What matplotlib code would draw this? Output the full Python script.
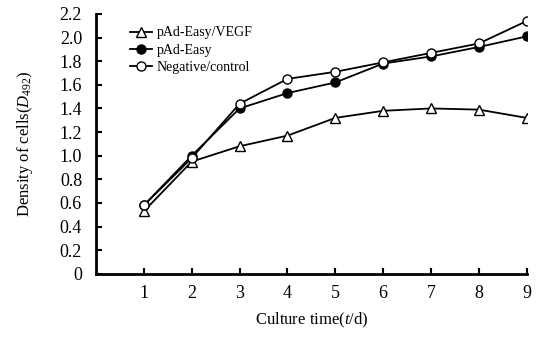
import matplotlib
matplotlib.use("Agg")
import matplotlib.pyplot as plt

days = [1, 2, 3, 4, 5, 6, 7, 8, 9]
vegf = [0.53, 0.95, 1.08, 1.17, 1.32, 1.38, 1.40, 1.39, 1.32]
easy = [0.58, 1.00, 1.40, 1.53, 1.62, 1.78, 1.84, 1.92, 2.01]
control = [0.58, 0.98, 1.44, 1.65, 1.71, 1.79, 1.87, 1.95, 2.14]
yticks = [0, 0.2, 0.4, 0.6, 0.8, 1.0, 1.2, 1.4, 1.6, 1.8, 2.0, 2.2]

plt.rcParams['font.family'] = 'Liberation Serif'
plt.rcParams['mathtext.fontset'] = 'custom'
plt.rcParams['mathtext.rm'] = 'Liberation Serif'
plt.rcParams['mathtext.it'] = 'Liberation Serif:italic'

fig = plt.figure(figsize=(5.42, 3.39), dpi=100)
ax = fig.add_axes([0.177, 0.192, 0.795, 0.767])

ax.plot(days, vegf, '-^', color='black', mfc='white', ms=6.5, lw=1.3, label='pAd-Easy/VEGF')
ax.plot(days, easy, '-o', color='black', mfc='black', ms=6.5, lw=1.3, label='pAd-Easy')
ax.plot(days, control, '-o', color='black', mfc='white', ms=6.5, lw=1.3, label='Negative/control')

ax.set_xlim(0, 9)
ax.set_ylim(0, 2.2)
ax.set_xticks(days)
ax.set_yticks(yticks)
ax.set_yticklabels(['0'] + ['%.1f' % v for v in yticks[1:]])
ax.tick_params(direction='in', length=4, width=1.5, labelsize=13)
ax.tick_params(axis='x', pad=8)
ax.tick_params(axis='y', pad=10)
for s in ['top', 'right']:
    ax.spines[s].set_visible(False)
for s in ['left', 'bottom']:
    ax.spines[s].set_linewidth(2)

ax.set_ylabel('Density of cells($\\mathit{D}_{492}$)', fontsize=12, labelpad=18)
ax.set_xlabel('Culture time($\\mathit{t}$/d)', fontsize=12, labelpad=6)

ax.legend(loc='upper left', bbox_to_anchor=(0.05, 1.0), frameon=False, fontsize=10,
          handlelength=1.6, handletextpad=0.3, labelspacing=0.3)

fig.savefig('out.png', dpi=100)
